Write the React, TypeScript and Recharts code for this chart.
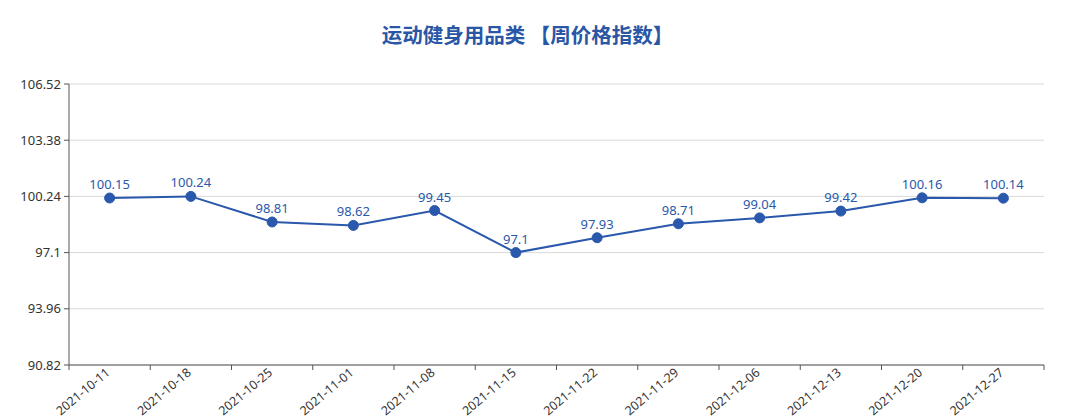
import React from "react";
import {
  LineChart,
  Line,
  XAxis,
  YAxis,
  CartesianGrid,
  LabelList,
} from "recharts";

const weeks = [
  "2021-10-11",
  "2021-10-18",
  "2021-10-25",
  "2021-11-01",
  "2021-11-08",
  "2021-11-15",
  "2021-11-22",
  "2021-11-29",
  "2021-12-06",
  "2021-12-13",
  "2021-12-20",
  "2021-12-27",
];
const priceIndex = [
  100.15, 100.24, 98.81, 98.62, 99.45, 97.1, 97.93, 98.71, 99.04, 99.42,
  100.16, 100.14,
];
const yTicks = [90.82, 93.96, 97.1, 100.24, 103.38, 106.52];

const chartData = weeks.map((week, i) => ({ week, value: priceIndex[i] }));

const WIDTH = 1065;
const HEIGHT = 419;
const LEFT = 69;
const RIGHT = 21;
const BAND = (WIDTH - LEFT - RIGHT) / weeks.length;
const BLUE = "#2a58ac";
const AXIS = "#555";
const FONT = "'Noto Sans', 'Open Sans', sans-serif";

// ticks sit on band edges, labels end near band centre
const XTick = (props: any) => {
  const { x, y, payload, index } = props;
  const half = BAND / 2;
  return (
    <g>
      <line x1={x - half} y1={y} x2={x - half} y2={y + 5} stroke={AXIS} />
      {index === weeks.length - 1 && (
        <line x1={x + half} y1={y} x2={x + half} y2={y + 5} stroke={AXIS} />
      )}
      <text
        x={x + 1}
        y={y + 9}
        textAnchor="end"
        fontSize={12.5}
        fill="#333"
        fontFamily={FONT}
        transform={`rotate(-40, ${x + 1}, ${y + 9})`}
      >
        {payload.value}
      </text>
    </g>
  );
};

const App: React.FC = () => {
  return (
    <div
      style={{
        position: "absolute",
        left: 0,
        top: 0,
        width: WIDTH,
        height: HEIGHT,
        background: "#fff",
      }}
    >
      <div
        style={{
          position: "absolute",
          top: 20,
          left: 0,
          width: WIDTH - 10,
          textAlign: "center",
          fontFamily: "'Noto Sans CJK SC', sans-serif",
          fontWeight: 700,
          fontSize: 20.5,
          color: "#2a56a6",
          lineHeight: "28px",
        }}
      >
        运动健身用品类 【周价格指数】
      </div>
      <LineChart
        width={WIDTH}
        height={HEIGHT}
        data={chartData}
        margin={{ top: 84, right: RIGHT, left: 0, bottom: 0 }}
      >
        <CartesianGrid vertical={false} stroke="#d9d9d9" />
        <XAxis
          dataKey="week"
          scale="band"
          height={54}
          interval={0}
          tickLine={false}
          tickSize={0}
          tickMargin={0}
          axisLine={{ stroke: AXIS }}
          tick={<XTick />}
        />
        <YAxis
          width={LEFT}
          domain={[90.82, 106.52]}
          ticks={yTicks}
          interval={0}
          tickSize={5}
          tickMargin={3}
          axisLine={{ stroke: AXIS }}
          tickLine={{ stroke: AXIS }}
          tick={{ fill: "#333", fontSize: 13, fontFamily: FONT }}
        />
        <Line
          type="linear"
          dataKey="value"
          stroke={BLUE}
          strokeWidth={2}
          dot={{ r: 5, fill: BLUE, stroke: BLUE, strokeWidth: 1 }}
          isAnimationActive={false}
        >
          <LabelList
            dataKey="value"
            position="top"
            offset={9}
            fill={BLUE}
            fontSize={13}
            fontFamily={FONT}
          />
        </Line>
      </LineChart>
    </div>
  );
};

export default App;
